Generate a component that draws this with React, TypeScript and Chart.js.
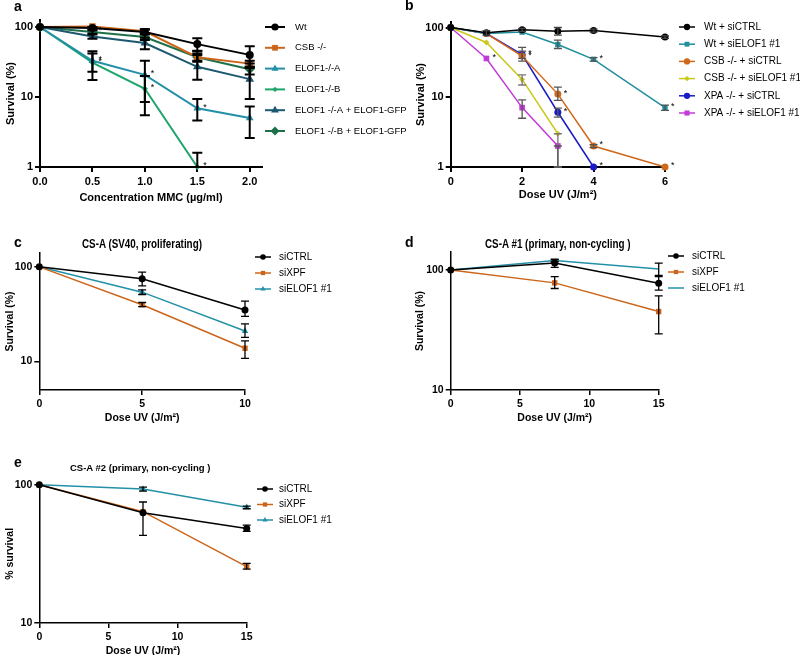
import React, { useEffect, useRef } from "react";
import { Chart, registerables } from "chart.js";
import { drawPoint } from "chart.js/helpers";

Chart.register(...registerables);

const FONT = "'Liberation Sans', Arial, Helvetica, sans-serif";

// ---------------- Panel a ----------------
const aDoses = [0, 0.5, 1.0, 1.5, 2.0];
const aXTicks = [0, 0.5, 1.0, 1.5, 2.0];
const aYTicks = [1, 10, 100];
const aWt = [100, 97, 85, 57, 40];
const aWtLo = [null, 92, 80, 46, 27];
const aWtHi = [null, 100, 92, 69, 53];
const aCSB = [100, 102, 87, 37, 30];
const aCSBLo = [null, null, 82, 33, 26];
const aCSBHi = [null, null, 93, 42, 33];
const aElofA = [100, 33, 20.7, 6.9, 5.0];
const aElofALo = [null, 23, 8.5, 4.6, 2.6];
const aElofAHi = [null, 45, 33, 9.4, 7.3];
const aElofB = [100, 31, 13.1, 1, null];
const aElofBLo = [null, 17.5, 5.5, 1, null];
const aElofBHi = [null, 42, 20, 1.6, null];
const aElofAGfp = [100, 73, 59, 27, 18];
const aElofAGfpLo = [null, 68, 48, 17.6, 9.4];
const aElofAGfpHi = [null, 78, 70, 40, 27];
const aElofBGfp = [100, 85, 72, 37, 25];
const aElofBGfpLo = [null, 80, 65, 32, 21];
const aElofBGfpHi = [null, 90, 78, 45, 30];

// ---------------- Panel b ----------------
const bDoses = [0, 1, 2, 3, 4, 6];
const bXTicks = [0, 2, 4, 6];
const bYTicks = [1, 10, 100];
const bWtCtrl = [100, 84, 92.6, 88.6, 90.6, 73];
const bWtCtrlLo = [null, 78, 88, 78, 86, 70];
const bWtCtrlHi = [null, 90, 97, 100, 95, 76];
const bWtElof = [100, 82, 86, 57, 35, 7.1];
const bWtElofLo = [null, null, null, 50, 33, 6.5];
const bWtElofHi = [null, null, null, 66, 37, 7.7];
const bCsbCtrl = [100, 82, 39, 11.1, 2.0, 1.0];
const bCsbCtrlLo = [null, null, 33, 9, 1.9, null];
const bCsbCtrlHi = [null, null, 46, 14, 2.1, null];
const bCsbElof = [100, 61, 18, 3.0, null, null];
const bCsbElofLo = [null, null, 15, 1, null, null];
const bCsbElofHi = [null, null, 21, 3.0, null, null];
const bXpaCtrl = [100, 82, 41, 6.1, 1.0, null];
const bXpaCtrlLo = [null, null, 36, 5.2, null, null];
const bXpaCtrlHi = [null, null, 52, 7, null, null];
const bXpaElof = [100, 36, 7.1, 2.0, null, null];
const bXpaElofLo = [null, null, 5, 1, null, null];
const bXpaElofHi = [null, null, 9.2, 2, null, null];

// ---------------- Panel c ----------------
const cDoses = [0, 5, 10];
const cXTicks = [0, 5, 10];
const cYTicks = [10, 100];
const cCtrl = [100, 75, 35];
const cCtrlLo = [null, 63, 30];
const cCtrlHi = [null, 88, 43.5];
const cXpf = [100, 39.8, 13.8];
const cXpfLo = [null, 38, 10.8];
const cXpfHi = [null, 42, 16.5];
const cElof = [100, 54, 21];
const cElofLo = [null, 51, 18];
const cElofHi = [null, 57, 25];

// ---------------- Panel d ----------------
const dDoses = [0, 7.5, 15];
const dXTicks = [0, 5, 10, 15];
const dYTicks = [10, 100];
const dCtrl = [100, 114, 77.4];
const dCtrlLo = [null, 105, 68];
const dCtrlHi = [null, 122, 88];
const dXpf = [100, 78, 45];
const dXpfLo = [null, 70, 29.3];
const dXpfHi = [null, 88, 60.7];
const dElof = [100, 120, 102];
const dElofLo = [null, 117, 90];
const dElofHi = [null, 123, 114];

// ---------------- Panel e ----------------
const eDoses = [0, 7.5, 15];
const eXTicks = [0, 5, 10, 15];
const eYTicks = [10, 100];
const eCtrl = [100, 62.7, 48.3];
const eCtrlLo = [null, 43, 46];
const eCtrlHi = [null, 75, 51];
const eXpf = [100, 63.8, 25.6];
const eXpfLo = [null, null, 24.5];
const eXpfHi = [null, null, 27];
const eElof = [100, 93, 68.7];
const eElofLo = [null, 90, 67];
const eElofHi = [null, 96, 70];

// ---------------- colours ----------------
const BLACK = "#000000";
const ORANGE = "#cc6519";
const TEAL = "#2390a8";
const GREEN = "#1fa46c";
const DTEAL = "#1c5870";
const DGREEN = "#1e704a";
const B_TEAL = "#1e8f9c";
const B_ORANGE = "#d0681c";
const B_YELLOW = "#c9c81c";
const B_BLUE = "#1a1ac6";
const B_MAGENTA = "#c23bd8";

type S = any;

function series(
  label: string, xs: number[], ys: (number | null)[], lo: (number | null)[], hi: (number | null)[],
  color: string, style: string, radius: number, lineW: number, errColor: string, errW: number, cap: number, stars: number[] = []
): S {
  const data = xs.map((x, i) => ({ x, y: ys[i] })).filter((p) => p.y != null);
  return {
    label, data, borderColor: color, backgroundColor: color, pointBackgroundColor: color,
    pointBorderColor: color, pointStyle: style, pointRadius: radius, pointBorderWidth: 0,
    borderWidth: lineW, tension: 0, clip: false,
    errX: xs, errY: ys, errLo: lo, errHi: hi, errColor, errW, cap, stars,
  };
}

const errorBarPlugin = {
  id: "errorBars",
  afterDatasetsDraw(chart: any) {
    const ctx = chart.ctx;
    const xs = chart.scales.x, ys = chart.scales.y;
    chart.data.datasets.forEach((ds: any) => {
      if (!ds.errLo) return;
      ctx.save();
      ctx.strokeStyle = ds.errColor;
      ctx.lineWidth = ds.errW;
      ds.errX.forEach((xv: number, j: number) => {
        const lo = ds.errLo[j], hi = ds.errHi[j];
        if (lo == null || hi == null) return;
        const x = xs.getPixelForValue(xv);
        const y1 = ys.getPixelForValue(lo), y2 = ys.getPixelForValue(hi);
        ctx.beginPath();
        ctx.moveTo(x, y1); ctx.lineTo(x, y2);
        ctx.moveTo(x - ds.cap, y1); ctx.lineTo(x + ds.cap, y1);
        ctx.moveTo(x - ds.cap, y2); ctx.lineTo(x + ds.cap, y2);
        ctx.stroke();
      });
      ctx.restore();
    });
  },
};

const starPlugin = {
  id: "stars",
  afterDatasetsDraw(chart: any) {
    const ctx = chart.ctx;
    const xs = chart.scales.x, ys = chart.scales.y;
    ctx.save();
    ctx.fillStyle = "#000";
    ctx.font = `9px ${FONT}`;
    ctx.textAlign = "left";
    ctx.textBaseline = "middle";
    chart.data.datasets.forEach((ds: any) => {
      (ds.stars || []).forEach((j: number) => {
        const x = xs.getPixelForValue(ds.errX[j]);
        const y = ys.getPixelForValue(ds.errY[j]);
        ctx.fillText("*", x + 6, y - 1);
      });
    });
    ctx.restore();
  },
};

const legendPlugin = {
  id: "panelLegend",
  afterDraw(chart: any, _args: any, opts: any) {
    if (!opts || opts.x == null) return;
    const ctx = chart.ctx;
    chart.data.datasets.forEach((ds: any, i: number) => {
      const y = opts.y + i * opts.dy;
      ctx.save();
      ctx.strokeStyle = ds.borderColor;
      ctx.lineWidth = opts.lineWidth;
      ctx.beginPath();
      ctx.moveTo(opts.x, y);
      ctx.lineTo(opts.x + opts.len, y);
      ctx.stroke();
      if (ds.pointRadius > 0) {
        ctx.fillStyle = ds.pointBackgroundColor;
        ctx.strokeStyle = ds.pointBorderColor;
        ctx.lineWidth = 0;
        drawPoint(ctx, { pointStyle: ds.pointStyle, radius: ds.pointRadius * opts.markerScale, borderWidth: 0, rotation: 0 } as any, opts.x + opts.len / 2, y);
      }
      ctx.fillStyle = "#000";
      ctx.font = `${opts.fontSize}px ${FONT}`;
      ctx.textAlign = "left";
      ctx.textBaseline = "middle";
      ctx.fillText(ds.label, opts.textX, y);
      ctx.restore();
    });
  },
};

interface Spec {
  left: number; top: number; width: number; height: number;
  area: { left: number; right: number; top: number; bottom: number };
  xMin: number; xMax: number; xTicks: number[]; xFmt: (v: number) => string;
  yMin: number; yMax: number; yTicks: number[];
  xTitle: string; yTitle: string; axisW: number; tickFont: number; titleFont: number;
  datasets: S[]; legend: any;
}

function buildConfig(s: Spec): any {
  const tickFont = { family: FONT, size: s.tickFont, weight: "bold" };
  const titleFont = { family: FONT, size: s.titleFont, weight: "bold" };
  return {
    type: "line",
    data: { datasets: s.datasets },
    options: {
      animation: false,
      responsive: false,
      devicePixelRatio: 1,
      layout: { padding: { left: 0, top: s.area.top, right: s.width - s.area.right, bottom: 0 } },
      plugins: { legend: { display: false }, tooltip: { enabled: false }, panelLegend: s.legend },
      scales: {
        x: {
          type: "linear", min: s.xMin, max: s.xMax,
          afterBuildTicks: (sc: any) => { sc.ticks = s.xTicks.map((v) => ({ value: v })); },
          afterFit: (sc: any) => { sc.height = s.height - s.area.bottom; },
          ticks: { callback: (v: number) => s.xFmt(v), font: tickFont, color: "#000", padding: 3, maxRotation: 0, autoSkip: false },
          grid: { display: true, drawOnChartArea: false, drawTicks: true, tickLength: 5, color: "#000", lineWidth: s.axisW },
          border: { display: true, color: "#000", width: s.axisW },
          title: { display: true, text: s.xTitle, font: titleFont, color: "#000", padding: { top: 0, bottom: 4 } },
        },
        y: {
          type: "logarithmic", min: s.yMin, max: s.yMax,
          afterBuildTicks: (sc: any) => { sc.ticks = s.yTicks.map((v) => ({ value: v })); },
          afterFit: (sc: any) => { sc.width = s.area.left; },
          ticks: { callback: (v: number) => String(v), font: tickFont, color: "#000", padding: 2, autoSkip: false },
          grid: { display: true, drawOnChartArea: false, drawTicks: true, tickLength: 5, color: "#000", lineWidth: s.axisW },
          border: { display: true, color: "#000", width: s.axisW },
          title: { display: true, text: s.yTitle, font: titleFont, color: "#000", padding: { top: 4, bottom: 0 } },
        },
      },
    },
    plugins: [errorBarPlugin, starPlugin, legendPlugin],
  };
}

function Panel({ spec }: { spec: Spec }) {
  const ref = useRef<HTMLCanvasElement>(null);
  useEffect(() => {
    const chart = new Chart(ref.current as HTMLCanvasElement, buildConfig(spec));
    return () => chart.destroy();
  }, []);
  return (
    <canvas
      ref={ref}
      width={spec.width}
      height={spec.height}
      style={{ position: "absolute", left: spec.left, top: spec.top, width: spec.width, height: spec.height }}
    />
  );
}

const fmt1 = (v: number) => v.toFixed(1);
const fmt0 = (v: number) => String(v);
const UV = "Dose UV (J/m\u00B2)";

const panelA: Spec = {
  left: 0, top: 0, width: 412, height: 209,
  area: { left: 40, right: 262, top: 20, bottom: 167 },
  xMin: 0, xMax: 2.117, xTicks: aXTicks, xFmt: fmt1,
  yMin: 1, yMax: 126, yTicks: aYTicks,
  xTitle: "Concentration MMC (\u00B5g/ml)", yTitle: "Survival (%)", axisW: 2, tickFont: 11, titleFont: 11,
  datasets: [
    series("Wt", aDoses, aWt, aWtLo, aWtHi, BLACK, "circle", 4, 2, BLACK, 2, 5),
    series("CSB -/-", aDoses, aCSB, aCSBLo, aCSBHi, ORANGE, "rect", 4.5, 2, BLACK, 2, 5),
    series("ELOF1-/-A", aDoses, aElofA, aElofALo, aElofAHi, TEAL, "triangle", 4.5, 2, BLACK, 2, 5, [1, 2, 3]),
    series("ELOF1-/-B", aDoses, aElofB, aElofBLo, aElofBHi, GREEN, "rectRot", 3, 2, BLACK, 2, 5, [1, 2, 3]),
    series("ELOF1 -/-A + ELOF1-GFP", aDoses, aElofAGfp, aElofAGfpLo, aElofAGfpHi, DTEAL, "triangle", 5, 2, BLACK, 2, 5),
    series("ELOF1 -/-B + ELOF1-GFP", aDoses, aElofBGfp, aElofBGfpLo, aElofBGfpHi, DGREEN, "rectRot", 5, 2, BLACK, 2, 5, [1]),
  ],
  legend: { x: 265, y: 27, dy: 20.8, len: 20, textX: 295, fontSize: 9.5, lineWidth: 2, markerScale: 0.9 },
};

const panelB: Spec = {
  left: 410, top: 0, width: 390, height: 206,
  area: { left: 40.7, right: 255, top: 22, bottom: 167 },
  xMin: 0, xMax: 6, xTicks: bXTicks, xFmt: fmt0,
  yMin: 1, yMax: 120, yTicks: bYTicks,
  xTitle: UV, yTitle: "Survival (%)", axisW: 2, tickFont: 11, titleFont: 11,
  datasets: [
    series("Wt + siCTRL", bDoses, bWtCtrl, bWtCtrlLo, bWtCtrlHi, BLACK, "circle", 3.5, 1.5, "#444", 1.3, 4),
    series("Wt + siELOF1 #1", bDoses, bWtElof, bWtElofLo, bWtElofHi, B_TEAL, "rect", 3.8, 1.5, "#555", 1.3, 4, [4, 5]),
    series("CSB -/- + siCTRL", bDoses, bCsbCtrl, bCsbCtrlLo, bCsbCtrlHi, B_ORANGE, "circle", 3.5, 1.5, "#555", 1.3, 4, [2, 3, 4, 5]),
    series("CSB -/- + siELOF1 #1", bDoses, bCsbElof, bCsbElofLo, bCsbElofHi, B_YELLOW, "rectRot", 3, 1.5, "#777", 1.3, 4),
    series("XPA -/- + siCTRL", bDoses, bXpaCtrl, bXpaCtrlLo, bXpaCtrlHi, B_BLUE, "circle", 3.5, 1.5, "#555", 1.3, 4, [2, 3, 4]),
    series("XPA -/- + siELOF1 #1", bDoses, bXpaElof, bXpaElofLo, bXpaElofHi, B_MAGENTA, "rect", 4, 1.5, "#555", 1.3, 4, [1]),
  ],
  legend: { x: 269, y: 27, dy: 17.2, len: 16, textX: 294, fontSize: 10, lineWidth: 1.5, markerScale: 0.9 },
};

const panelC: Spec = {
  left: 0, top: 235, width: 405, height: 193,
  area: { left: 39.3, right: 245, top: 18, bottom: 155 },
  xMin: 0, xMax: 10, xTicks: cXTicks, xFmt: fmt0,
  yMin: 5, yMax: 140, yTicks: cYTicks,
  xTitle: UV, yTitle: "Survival (%)", axisW: 1.5, tickFont: 10.5, titleFont: 10.5,
  datasets: [
    series("siCTRL", cDoses, cCtrl, cCtrlLo, cCtrlHi, BLACK, "circle", 3.5, 1.5, BLACK, 1.3, 4),
    series("siXPF", cDoses, cXpf, cXpfLo, cXpfHi, ORANGE, "rect", 3.8, 1.5, BLACK, 1.3, 4),
    series("siELOF1 #1", cDoses, cElof, cElofLo, cElofHi, TEAL, "triangle", 3.8, 1.5, BLACK, 1.3, 4),
  ],
  legend: { x: 255, y: 22, dy: 16, len: 16, textX: 279, fontSize: 10, lineWidth: 1.5, markerScale: 0.8 },
};

const panelD: Spec = {
  left: 410, top: 235, width: 390, height: 193,
  area: { left: 40.7, right: 248.7, top: 17, bottom: 155 },
  xMin: 0, xMax: 15, xTicks: dXTicks, xFmt: fmt0,
  yMin: 10, yMax: 141, yTicks: dYTicks,
  xTitle: UV, yTitle: "Survival (%)", axisW: 1.5, tickFont: 10.5, titleFont: 10.5,
  datasets: [
    series("siCTRL", dDoses, dCtrl, dCtrlLo, dCtrlHi, BLACK, "circle", 3.5, 1.5, BLACK, 1.3, 4),
    series("siXPF", dDoses, dXpf, dXpfLo, dXpfHi, ORANGE, "rect", 3.8, 1.5, BLACK, 1.3, 4),
    series("siELOF1 #1", dDoses, dElof, dElofLo, dElofHi, TEAL, "circle", 0, 1.5, BLACK, 1.3, 4),
  ],
  legend: { x: 258, y: 21, dy: 16, len: 16, textX: 282, fontSize: 10, lineWidth: 1.5, markerScale: 0.8 },
};

const panelE: Spec = {
  left: 0, top: 460, width: 405, height: 201,
  area: { left: 39.3, right: 246.7, top: 24.7, bottom: 163 },
  xMin: 0, xMax: 15, xTicks: eXTicks, xFmt: fmt0,
  yMin: 10, yMax: 100, yTicks: eYTicks,
  xTitle: UV, yTitle: "% survival", axisW: 1.5, tickFont: 10.5, titleFont: 10.5,
  datasets: [
    series("siCTRL", eDoses, eCtrl, eCtrlLo, eCtrlHi, BLACK, "circle", 3.5, 1.5, BLACK, 1.3, 4),
    series("siXPF", eDoses, eXpf, eXpfLo, eXpfHi, ORANGE, "rect", 3.8, 1.5, BLACK, 1.3, 4),
    series("siELOF1 #1", eDoses, eElof, eElofLo, eElofHi, TEAL, "triangle", 3.8, 1.5, BLACK, 1.3, 4),
  ],
  legend: { x: 257, y: 29, dy: 15.5, len: 16, textX: 279, fontSize: 10, lineWidth: 1.5, markerScale: 0.8 },
};

const letterStyle = (left: number, top: number): React.CSSProperties => ({
  position: "absolute", left, top, fontFamily: FONT, fontWeight: "bold", fontSize: 14, lineHeight: "14px", color: "#000",
});

const titleStyle = (left: number, top: number, size: number, sx: number): React.CSSProperties => ({
  position: "absolute", left, top, fontFamily: FONT, fontWeight: "bold", fontSize: size, lineHeight: `${size}px`,
  color: "#000", whiteSpace: "nowrap", transform: `scaleX(${sx})`, transformOrigin: "left center",
});

export default function App() {
  return (
    <div style={{ position: "absolute", left: 0, top: 0, width: 800, height: 655, overflow: "hidden", background: "#fff" }}>
      <Panel spec={panelA} />
      <Panel spec={panelB} />
      <Panel spec={panelC} />
      <Panel spec={panelD} />
      <Panel spec={panelE} />
      <div style={letterStyle(14, -1)}>a</div>
      <div style={letterStyle(405, -2)}>b</div>
      <div style={letterStyle(14, 235)}>c</div>
      <div style={letterStyle(405, 235)}>d</div>
      <div style={letterStyle(14, 455)}>e</div>
      <div style={titleStyle(82, 238, 12, 0.82)}>CS-A (SV40, proliferating)</div>
      <div style={titleStyle(485, 238, 12, 0.82)}>CS-A #1 (primary, non-cycling )</div>
      <div style={titleStyle(70, 463, 9.5, 1)}>CS-A #2 (primary, non-cycling )</div>
    </div>
  );
}
